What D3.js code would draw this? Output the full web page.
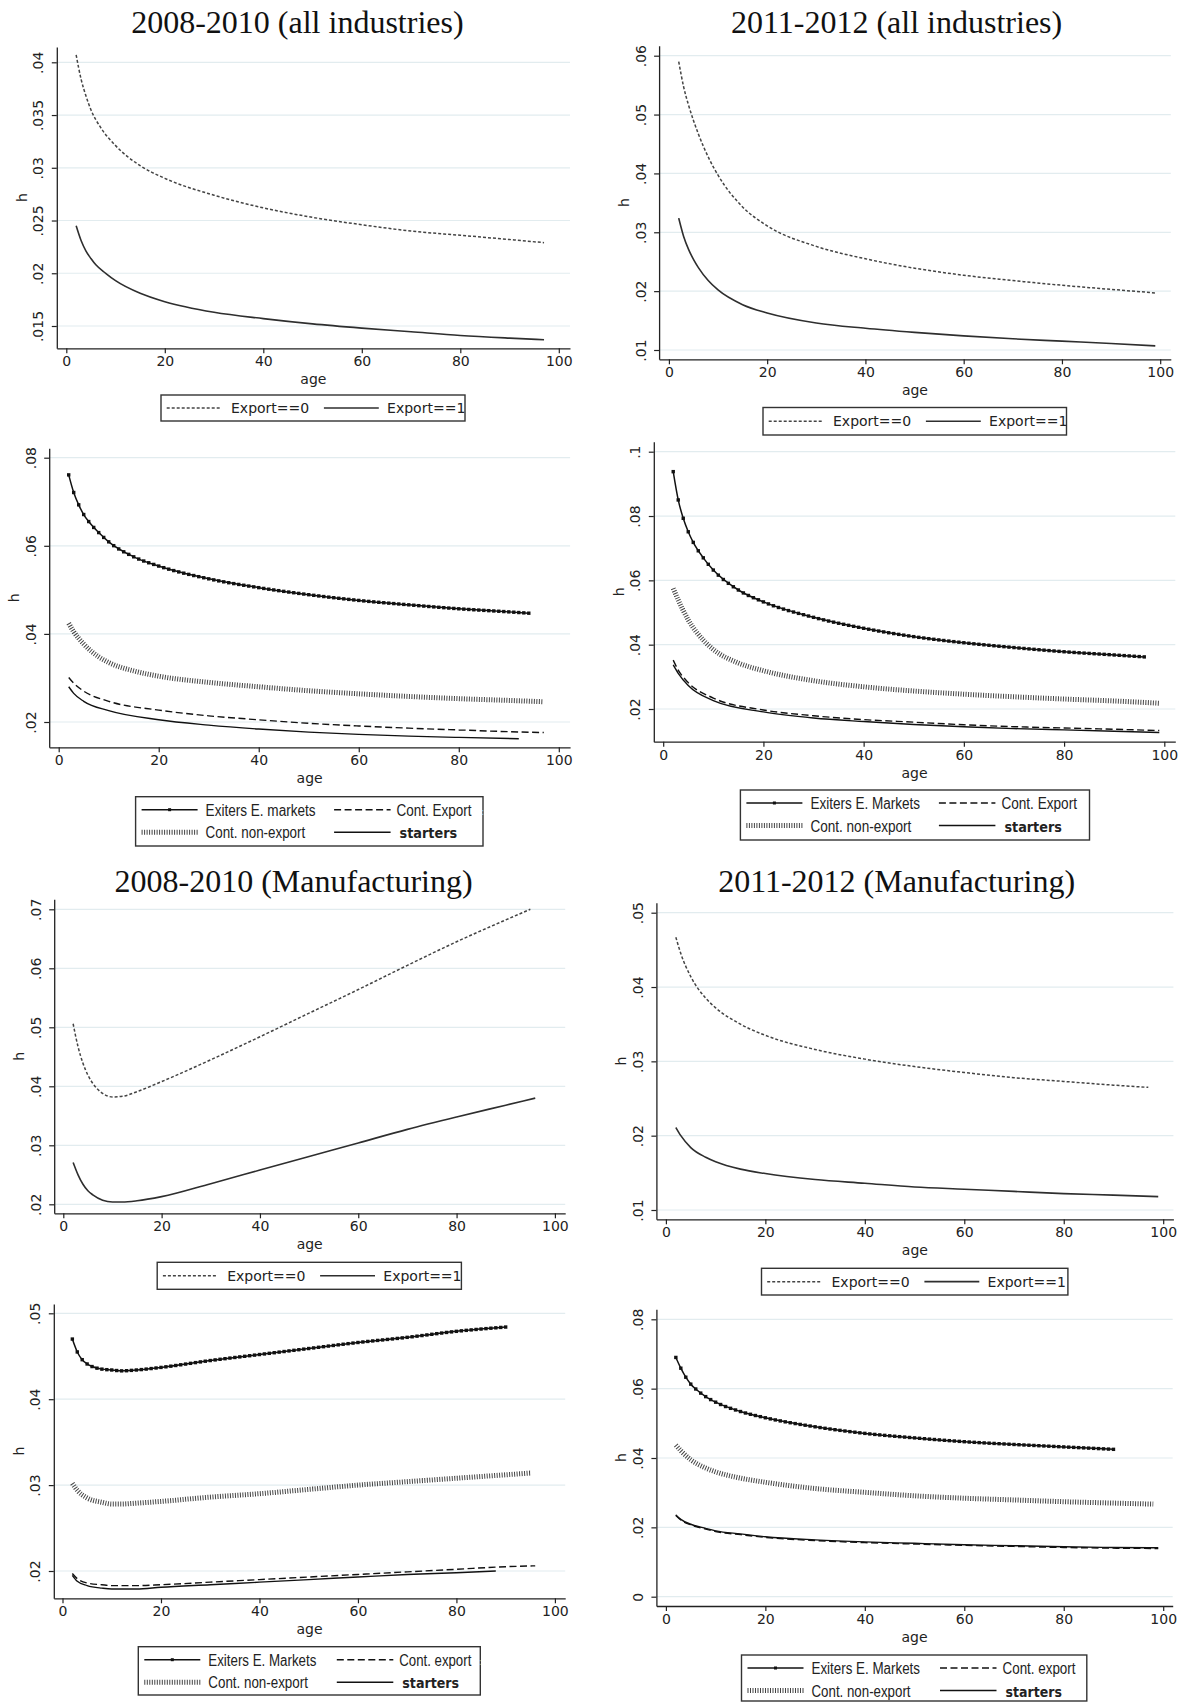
<!DOCTYPE html>
<html>
<head>
<meta charset="utf-8" />
<title>Hazard by age</title>
<script src="https://cdn.jsdelivr.net/npm/d3@7"></script>
<style>
  body { margin: 0; background: #fff; }
  svg { display: block; }
</style>
</head>
<body>
<svg id="fig" width="1187" height="1702"></svg>
<script>
// ---- values: [age, h] ----
const titles = ["2008-2010 (all industries)", "2011-2012 (all industries)",
                "2008-2010 (Manufacturing)", "2011-2012 (Manufacturing)"];
const xTicks = [0, 20, 40, 60, 80, 100];

// panel 1: 2008-2010 all industries
const p1Exp0 = [[2,.0407],[3,.0384],[4,.0368],[5,.0355],[7,.0338],[10,.0321],[15,.0302],[20,.0290],[30,.0274],[40,.0262],[50,.0253],[60,.0246],[70,.0240],[80,.0236],[90,.0232],[97,.0229]];
const p1Exp1 = [[2,.0245],[3,.0231],[4,.0221],[5,.0214],[6,.0208],[8,.0200],[10,.0193],[15,.0181],[20,.0173],[30,.0163],[40,.0157],[50,.0152],[60,.0148],[70,.01445],[80,.0141],[90,.01385],[97,.0137]];
// panel 2: 2011-2012 all industries
const p2Exp0 = [[2,.0590],[3,.0547],[4,.0516],[5,.0490],[6,.0467],[8,.0428],[10,.0397],[15,.0343],[20,.0311],[30,.0276],[40,.0255],[50,.0239],[60,.0227],[70,.0218],[80,.0210],[90,.0203],[99,.0197]];
const p2Exp1 = [[2,.0324],[3,.0293],[4,.0271],[5,.0254],[6,.0240],[8,.0218],[10,.0202],[15,.0177],[20,.0163],[30,.0146],[40,.0137],[50,.0130],[60,.0124],[70,.0119],[80,.0115],[90,.0111],[99,.0107]];
// panel 3: 2008-2010 all industries, by status
const p3Exiters = [[2,.0761],[3,.0721],[4,.0693],[5,.0671],[6,.0655],[8,.0630],[10,.0609],[15,.0575],[20,.0554],[30,.0525],[40,.0505],[50,.0489],[60,.0476],[70,.0466],[80,.0457],[90,.0450],[94,.0447]];
const p3NonExp = [[2,.0424],[3,.0405],[5,.0377],[8,.0348],[10,.0335],[15,.0316],[20,.0304],[30,.0290],[40,.0280],[50,.0271],[60,.0264],[70,.0258],[80,.0253],[90,.0249],[97,.0246]];
const p3ContExp = [[2,.0301],[3,.0288],[5,.0270],[10,.0247],[20,.0227],[30,.0214],[40,.0205],[50,.0197],[60,.0191],[70,.0186],[80,.0182],[90,.0178],[97,.0176]];
const p3Starters = [[2,.0280],[3,.0265],[5,.0247],[10,.0226],[20,.0205],[30,.0193],[40,.0184],[50,.0177],[60,.0172],[70,.0168],[80,.0165],[92,.0162]];
// panel 4: 2011-2012 all industries, by status
const p4Exiters = [[2,.0938],[3,.0850],[4,.0793],[5,.0751],[6,.0718],[8,.0670],[10,.0632],[15,.0570],[20,.0533],[30,.0485],[40,.0451],[50,.0425],[60,.0406],[70,.0391],[80,.0378],[90,.0368],[96,.0362]];
const p4NonExp = [[2,.0575],[3,.0539],[5,.0477],[8,.0414],[10,.0385],[15,.0343],[20,.0319],[30,.0288],[40,.0269],[50,.0256],[60,.0246],[70,.0238],[80,.0231],[90,.0225],[99,.0218]];
const p4ContExp = [[2,.0352],[3,.0321],[5,.0282],[10,.0234],[20,.0197],[30,.0179],[40,.0167],[50,.0159],[60,.0151],[70,.0145],[80,.0141],[90,.0137],[99,.0133]];
const p4Starters = [[2,.0337],[3,.0311],[5,.0273],[10,.0226],[20,.0191],[30,.0172],[40,.0161],[50,.0152],[60,.0145],[70,.0139],[80,.0135],[90,.0131],[99,.0127]];
// panel 5: 2008-2010 manufacturing
const p5Exp0 = [[2,.0506],[3,.0467],[4,.0439],[5,.0419],[6,.0405],[8,.0388],[10,.0382],[12,.0383],[15,.0391],[20,.0408],[30,.0445],[40,.0484],[50,.0524],[60,.0564],[70,.0605],[80,.0645],[90,.0682],[95,.0700]];
const p5Exp1 = [[2,.0271],[3,.0250],[4,.0234],[5,.0223],[6,.0216],[8,.0207],[10,.0204],[12,.0204],[15,.0206],[20,.0213],[30,.0235],[40,.0258],[50,.0281],[60,.0304],[70,.0327],[80,.0348],[90,.0368],[96,.0380]];
// panel 6: 2011-2012 manufacturing
const p6Exp0 = [[2,.0467],[3,.0445],[5,.0414],[8,.0385],[10,.0372],[15,.0350],[20,.0335],[30,.0316],[40,.0303],[50,.0293],[60,.0285],[70,.0278],[80,.0273],[90,.0268],[97,.0265]];
const p6Exp1 = [[2,.0211],[3,.0200],[5,.0184],[8,.0171],[10,.0165],[15,.0155],[20,.0149],[30,.0141],[40,.0136],[50,.0131],[60,.0128],[70,.0125],[80,.0122],[90,.0120],[99,.0118]];
// panel 7: 2008-2010 manufacturing, by status
const p7Exiters = [[2,.0470],[3,.0455],[4,.0446],[5,.0441],[6,.0438],[8,.0435],[10,.0434],[12,.0433],[15,.0434],[20,.0437],[30,.0445],[40,.0452],[50,.0459],[60,.0466],[70,.0472],[80,.0479],[90,.0484]];
const p7NonExp = [[2,.0302],[3,.0294],[5,.0285],[8,.0280],[10,.0278],[12,.0278],[15,.0279],[20,.0281],[30,.0286],[40,.0290],[50,.0295],[60,.0300],[70,.0304],[80,.0308],[90,.0312],[95,.0314]];
const p7ContExp = [[2,.0197],[3,.0191],[5,.0186],[8,.0184],[10,.0183],[15,.0183],[20,.0184],[30,.0187],[40,.0190],[50,.0193],[60,.0196],[70,.0199],[80,.0202],[90,.0205],[96,.0206]];
const p7Starters = [[2,.0195],[3,.0188],[5,.0183],[8,.0180],[10,.0179],[12,.0179],[15,.0179],[20,.0181],[30,.0184],[40,.0187],[50,.0190],[60,.0193],[70,.0196],[80,.0198],[88,.0200]];
// panel 8: 2011-2012 manufacturing, by status
const p8Exiters = [[2,.0690],[3,.0659],[4,.0633],[5,.0613],[6,.0599],[8,.0577],[10,.0561],[15,.0534],[20,.0516],[30,.0490],[40,.0471],[50,.0458],[60,.0447],[70,.0439],[80,.0432],[90,.0425]];
const p8NonExp = [[2,.0437],[3,.0421],[5,.0395],[8,.0371],[10,.0360],[15,.0342],[20,.0330],[30,.0312],[40,.0301],[50,.0291],[60,.0284],[70,.0279],[80,.0274],[90,.0270],[98,.0267]];
const p8ContExp = [[2,.0234],[3,.0221],[5,.0207],[8,.0195],[10,.0188],[15,.0179],[20,.0171],[30,.0162],[40,.0156],[50,.0152],[60,.0148],[70,.0145],[80,.0142],[90,.0140],[99,.0139]];
const p8Starters = [[2,.0236],[3,.0223],[5,.0209],[8,.0197],[10,.0190],[15,.0181],[20,.0173],[30,.0164],[40,.0158],[50,.0154],[60,.0150],[70,.0147],[80,.0144],[90,.0142],[99,.0141]];

const yTicks = [
  [.015,.02,.025,.03,.035,.04],
  [.01,.02,.03,.04,.05,.06],
  [.02,.04,.06,.08],
  [.02,.04,.06,.08,.1],
  [.02,.03,.04,.05,.06,.07],
  [.01,.02,.03,.04,.05],
  [.02,.03,.04,.05],
  [0,.02,.04,.06,.08]
];
const legend2Labels = ["Export==0", "Export==1"];
const legend4Labels = [
  ["Exiters E. markets", "Cont. Export", "Cont. non-export", "starters"],
  ["Exiters E. Markets", "Cont. Export", "Cont. non-export", "starters"],
  ["Exiters E. Markets", "Cont. export", "Cont. non-export", "starters"],
  ["Exiters E. Markets", "Cont. export", "Cont. non-export", "starters"]
];
// measured widths of the legend texts
const legend4Widths = [
  [110, 75, 99.6, 57.6],
  [109.7, 75.6, 101, 57.5],
  [108, 72, 99.6, 56.8],
  [108.5, 73, 99, 56.4]
];

// ---- styles ----
const styles = {
  exp0:     {stroke: "#444", width: 1.5, dash: "3,2"},
  exp1:     {stroke: "#2e2e2e", width: 1.6},
  exiters:  {stroke: "#111", width: 1.5, marker: true},
  nonexp:   {stroke: "#444", width: 5, dash: "1,1.5"},
  contexp:  {stroke: "#111", width: 1.4, dash: "7,3.5"},
  starters: {stroke: "#111", width: 1.4}
};

// layout: frame, where 0/100 land on x, and two y ticks' pixel rows
const panels = [
  {left: 56.8, right: 570, top: 47, bottom: 348.3, x0: 66.3, x100: 558.8, yA: [.015, 326], yB: [.04, 62.3],
   series: [["exp0", p1Exp0], ["exp1", p1Exp1]], legend: {type: 2, box: [161, 395, 304, 26]}},
  {left: 659.1, right: 1170.8, top: 45.7, bottom: 359.3, x0: 668.9, x100: 1160.2, yA: [.01, 350], yB: [.06, 55.7],
   series: [["exp0", p2Exp0], ["exp1", p2Exp1]], legend: {type: 2, box: [763, 407.5, 303.5, 27.5]}},
  {left: 49.2, right: 570.1, top: 448.3, bottom: 747.3, x0: 58.7, x100: 558.8, yA: [.02, 722], yB: [.08, 457.7],
   series: [["nonexp", p3NonExp], ["contexp", p3ContExp], ["starters", p3Starters], ["exiters", p3Exiters]],
   legend: {type: 4, box: [135.6, 796.7, 347.4, 49.3], idx: 0, colon: true}},
  {left: 653.8, right: 1175.3, top: 441.7, bottom: 741.7, x0: 663.2, x100: 1164.3, yA: [.02, 709], yB: [.1, 451.7],
   series: [["nonexp", p4NonExp], ["contexp", p4ContExp], ["starters", p4Starters], ["exiters", p4Exiters]],
   legend: {type: 4, box: [740.4, 790, 349.1, 50], idx: 1}},
  {left: 54.2, right: 565.2, top: 899.3, bottom: 1213.3, x0: 63.3, x100: 554.9, yA: [.02, 1204.3], yB: [.07, 909.3],
   series: [["exp0", p5Exp0], ["exp1", p5Exp1]], legend: {type: 2, box: [157.2, 1262.3, 304.2, 27]}},
  {left: 656.4, right: 1173.4, top: 902.7, bottom: 1219.3, x0: 665.9, x100: 1163.2, yA: [.01, 1210], yB: [.05, 912.7],
   series: [["exp0", p6Exp0], ["exp1", p6Exp1]], legend: {type: 2, box: [761.5, 1268.3, 306.4, 26.7]}},
  {left: 53.8, right: 565.2, top: 1304, bottom: 1598.3, x0: 62.5, x100: 554.9, yA: [.02, 1571], yB: [.05, 1313.3],
   series: [["nonexp", p7NonExp], ["contexp", p7ContExp], ["starters", p7Starters], ["exiters", p7Exiters]],
   legend: {type: 4, box: [138.3, 1646.7, 342, 48.3], idx: 2, colon: true}},
  {left: 656.4, right: 1172.7, top: 1309.3, bottom: 1606, x0: 665.9, x100: 1163.2, yA: [0, 1596.7], yB: [.08, 1319.3],
   series: [["nonexp", p8NonExp], ["contexp", p8ContExp], ["starters", p8Starters], ["exiters", p8Exiters]],
   legend: {type: 4, box: [741.5, 1655, 345.3, 46], idx: 3}}
];
const titlePos = [[297.4, 33.3], [896.6, 33.3], [293.6, 891.7], [896.6, 891.7]];

const svg = d3.select("#fig");
const FONT = "'DejaVu Sans', Verdana, sans-serif";
const SANS = "'Liberation Sans', Arial, sans-serif";
const fmtY = d => d === 0 ? "0" : String(+d.toFixed(3)).replace(/^0\./, ".");

// titles
svg.append("g").selectAll("text")
  .data(titles).enter().append("text")
  .attr("x", (d, i) => titlePos[i][0])
  .attr("y", (d, i) => titlePos[i][1])
  .attr("text-anchor", "middle")
  .style("font-family", "'Liberation Serif', 'Times New Roman', serif")
  .style("font-size", "32px")
  .style("fill", "#111")
  .text(d => d);

function pointAtX(path, tx) {
  const L = path.getTotalLength();
  let lo = 0, hi = L;
  for (let i = 0; i < 30; i++) {
    const mid = (lo + hi) / 2;
    if (path.getPointAtLength(mid).x < tx) lo = mid; else hi = mid;
  }
  return path.getPointAtLength((lo + hi) / 2);
}

function drawPanel(p, pi) {
  const g = svg.append("g");
  const x = d3.scaleLinear().domain([0, 100]).range([p.x0, p.x100]);
  x.domain([x.invert(p.left), x.invert(p.right)]).range([p.left, p.right]);
  const y = d3.scaleLinear().domain([p.yA[0], p.yB[0]]).range([p.yA[1], p.yB[1]]);
  y.domain([y.invert(p.bottom), y.invert(p.top)]).range([p.bottom, p.top]);
  const ticks = yTicks[pi];

  // grid
  g.append("g").selectAll("line").data(ticks).enter().append("line")
    .attr("x1", p.left).attr("x2", p.right)
    .attr("y1", d => y(d)).attr("y2", d => y(d))
    .style("stroke", "#e2ecef").style("stroke-width", 1.2);

  // axes
  const ax = g.append("g").attr("transform", `translate(0,${p.bottom})`)
    .call(d3.axisBottom(x).tickValues(xTicks).tickSize(5).tickSizeOuter(0));
  const ay = g.append("g").attr("transform", `translate(${p.left},0)`)
    .call(d3.axisLeft(y).tickValues(ticks).tickSize(5).tickSizeOuter(0).tickFormat(fmtY));
  [ax, ay].forEach(a => {
    a.select(".domain").style("stroke", "#222").style("stroke-width", 1.3);
    a.selectAll(".tick line").style("stroke", "#222").style("stroke-width", 1.2);
    a.selectAll("text").style("font-family", FONT).style("font-size", "14px").style("fill", "#222");
  });
  ay.selectAll(".tick text")
    .attr("transform", "rotate(-90)")
    .attr("x", 0).attr("y", -13.5).attr("dy", 0)
    .attr("text-anchor", "middle");

  // axis titles
  g.append("text")
    .attr("x", (p.left + p.right) / 2).attr("y", p.bottom + 36)
    .attr("text-anchor", "middle")
    .style("font-family", FONT).style("font-size", "14px").style("fill", "#222")
    .text("age");
  g.append("text")
    .attr("transform", `translate(${p.left - 30},${(p.top + p.bottom) / 2}) rotate(-90)`)
    .attr("text-anchor", "middle")
    .style("font-family", FONT).style("font-size", "14px").style("fill", "#222")
    .text("h");

  // series
  const line = d3.line().x(d => x(d[0])).y(d => y(d[1])).curve(d3.curveMonotoneX);
  p.series.forEach(([key, data]) => {
    const s = styles[key];
    const path = g.append("path")
      .datum(data)
      .attr("d", line)
      .style("fill", "none")
      .style("stroke", s.stroke)
      .style("stroke-width", s.width)
      .style("stroke-dasharray", s.dash || null);
    if (s.marker) {
      // one small square per year of age, sitting on the curve
      const node = path.node();
      const ages = d3.range(Math.ceil(data[0][0]), data[data.length - 1][0] + 0.001, 1);
      g.append("g").selectAll("rect").data(ages).enter().append("rect")
        .each(function (a) {
          const pt = pointAtX(node, x(a));
          d3.select(this).attr("x", pt.x - 1.7).attr("y", pt.y - 1.7);
        })
        .attr("width", 3.4).attr("height", 3.4)
        .style("fill", "#111");
    }
  });

  drawLegend(p.legend);
}

function sample(g, key, x1, x2, yy) {
  const s = styles[key];
  g.append("line")
    .attr("x1", x1).attr("x2", x2).attr("y1", yy).attr("y2", yy)
    .style("stroke", s.stroke).style("stroke-width", s.width)
    .style("stroke-dasharray", s.dash || null);
  if (s.marker) {
    g.append("rect").attr("x", (x1 + x2) / 2 - 1.5).attr("y", yy - 1.5)
      .attr("width", 3).attr("height", 3).style("fill", "#111");
  }
}

function drawLegend(lg) {
  const [bx, by, bw, bh] = lg.box;
  const g = svg.append("g");
  g.append("rect").attr("x", bx).attr("y", by).attr("width", bw).attr("height", bh)
    .style("fill", "#fff").style("stroke", "#333").style("stroke-width", 1.4);
  if (lg.type === 2) {
    const cy = by + bh / 2;
    sample(g, "exp0", bx + 5.7, bx + 60.6, cy);
    sample(g, "exp1", bx + 162.9, bx + 217.8, cy);
    g.selectAll("text.lab").data(legend2Labels).enter().append("text")
      .attr("x", (d, i) => bx + (i ? 226.1 : 70))
      .attr("y", cy + 5)
      .style("font-family", FONT).style("font-size", "14px").style("fill", "#222")
      .text(d => d);
  } else {
    const r1 = by + 13, r2 = by + 35.5;
    sample(g, "exiters", bx + 6, bx + 62, r1);
    sample(g, "contexp", bx + 198.5, bx + 255, r1);
    sample(g, "nonexp", bx + 6, bx + 62, r2);
    sample(g, "starters", bx + 198.5, bx + 255, r2);
    const pos = [[bx + 70, r1], [bx + 261, r1], [bx + 70, r2], [bx + 264, r2]];
    legend4Labels[lg.idx].forEach((t, i) => {
      const bold = i === 3;
      g.append("text")
        .attr("x", pos[i][0]).attr("y", pos[i][1] + 6)
        .attr("textLength", legend4Widths[lg.idx][i])
        .attr("lengthAdjust", "spacingAndGlyphs")
        .style("font-family", bold ? FONT : SANS)
        .style("font-weight", bold ? "bold" : "normal")
        .style("font-size", bold ? "14px" : "16px")
        .style("fill", "#222")
        .text(t);
    });
    if (lg.colon) {
      g.append("text").attr("x", bx + bw - 2).attr("y", r1 + 5)
        .style("font-family", FONT).style("font-size", "10px").style("fill", "#8fc0e6")
        .text(":");
    }
  }
}

panels.forEach(drawPanel);
</script>
</body>
</html>
